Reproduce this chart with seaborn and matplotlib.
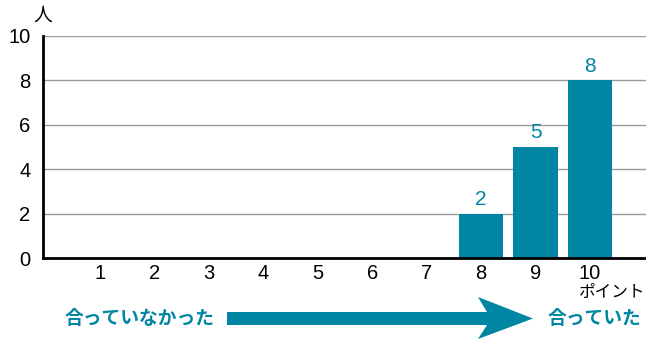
import numpy as np
import pandas as pd
import seaborn as sns
import matplotlib.pyplot as plt
from matplotlib.patches import Polygon

# data
points = ['1', '2', '3', '4', '5', '6', '7', '8', '9', '10']
counts = [0, 0, 0, 0, 0, 0, 0, 2, 5, 8]
y_ticks = [0, 2, 4, 6, 8, 10]
left_label = '合っていなかった'
right_label = '合っていた'

teal = '#0085A3'
latin = ['Liberation Sans', 'DejaVu Sans']

sns.set_theme(style='white')
plt.rcParams['font.family'] = ['Noto Sans CJK JP', 'DejaVu Sans']

df = pd.DataFrame({'point': points, 'count': counts})

W, H = 646, 340
fig = plt.figure(figsize=(W / 100, H / 100), dpi=100)
ax = fig.add_axes([43 / W, 1 - 258 / H, (W - 43) / W, (258 - 36) / H])

sns.barplot(data=df, x='point', y='count', color=teal, saturation=1,
            width=0.81, linewidth=0, ax=ax, zorder=3)

ax.set_ylim(0, 10)
ax.set_xlim(-1.05, 10.03)
ax.set_yticks(y_ticks)
ax.set_yticklabels([str(t) for t in y_ticks], fontsize=14.5, color='black', family=latin)
ax.set_xticklabels(points, fontsize=14.5, color='black', family=latin)
ax.set_xlabel('')
ax.set_ylabel('')
ax.tick_params(axis='x', length=0, pad=4)
ax.tick_params(axis='y', length=0, pad=9)
ax.yaxis.grid(True, color='#9a9a9a', linewidth=1.0, zorder=0)
ax.set_axisbelow(True)
for s in ['top', 'right']:
    ax.spines[s].set_visible(False)
for s in ['left', 'bottom']:
    ax.spines[s].set_color('black')
    ax.spines[s].set_linewidth(2)
    ax.spines[s].set_zorder(5)

# value labels above non-zero bars
for i, c in enumerate(counts):
    if c > 0:
        ax.text(i, c + 0.22, str(c), ha='center', va='bottom', fontsize=15,
                color=teal, family=latin)

# unit labels
fig.text(43 / W, 1 - 15 / H, '人', ha='center', va='center', fontsize=13.5, color='black')
fig.text(612 / W, 1 - 292 / H, 'ポイント', ha='center', va='center', fontsize=12, color='black')

# bottom arrow with captions
def px(x, y):
    return (x / W, 1 - y / H)

arrow_pts = [px(227, 312), px(487, 312), px(478, 297), px(533, 318.5),
             px(478, 339), px(487, 325), px(227, 325)]
fig.patches.append(Polygon(arrow_pts, closed=True, transform=fig.transFigure,
                           facecolor=teal, edgecolor='none'))
fig.text(140 / W, 1 - 318 / H, left_label, ha='center', va='center',
         fontsize=13.5, color=teal, fontweight='bold')
fig.text(594 / W, 1 - 318 / H, right_label, ha='center', va='center',
         fontsize=13.5, color=teal, fontweight='bold')

fig.savefig('out.png', dpi=100)
